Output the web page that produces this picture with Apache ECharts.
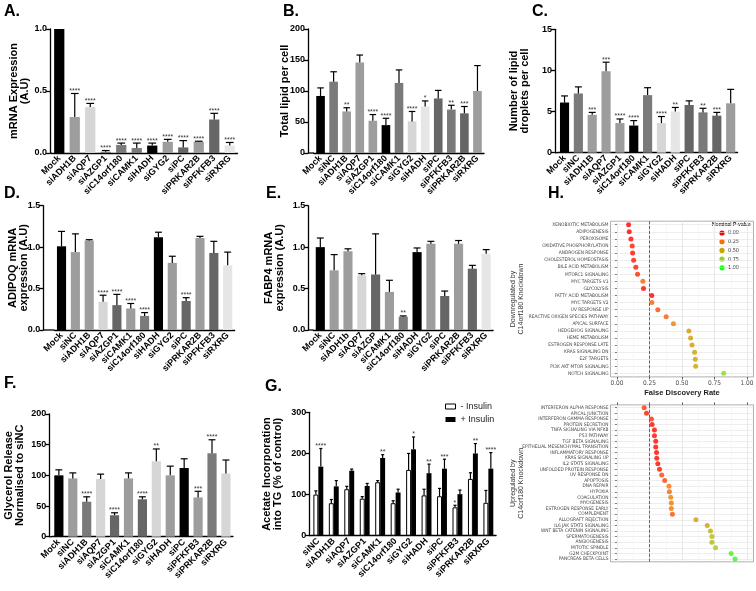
<!DOCTYPE html>
<html><head><meta charset="utf-8">
<script src="https://cdn.jsdelivr.net/npm/echarts@6/dist/echarts.min.js"></script>
<style>html,body{margin:0;padding:0;background:#fff}#c{width:756px;height:591px}</style>
</head><body><div id="c"></div>
<script>
// ---------------- DATA ----------------
const catsA = ['Mock','siADH1B','siAQP7','siAZGP1','siC14orf180','siCAMK1','siHADH','siGYG2','siPC','siPRKAR2B','siPFKFB3','siRXRG'];
const valsA = [1.0,0.29,0.37,0.01,0.065,0.04,0.06,0.09,0.045,0.09,0.27,0.06];
const errA  = [1.0,0.48,0.40,0.02,0.08,0.08,0.08,0.11,0.10,0.095,0.32,0.085];
const starsA = ['','****','****','****','****','****','****','****','****','****','****','****'];

const catsB = ['Mock','siNC','siADH1B','siAQP7','siAZGP1','siC14orf180','siCAMK1','siGYG2','siHADH','siPC','siPFKFB3','siPRKAR2B','siRXRG'];
const valsB = [92,115,67,146,52,45,113,51,75,88,70,64,100];
const errB  = [105,131,73,158,62,56,134,67,84,101,77,75,141];
const starsB = ['','','**','','****','****','','****','*','','**','***',''];

const catsC = ['Mock','siNC','siADH1B','siAQP7','siAZGP1','siC14orf180','siCAMK1','siGYG2','siHADH','siPC','siPFKFB3','siPRKAR2B','siRXRG'];
const valsC = [6.1,7.2,4.6,9.9,3.6,3.3,7.0,3.6,5.0,5.8,4.9,4.5,6.0];
const errC  = [6.9,8.0,4.9,11.0,4.1,3.9,7.9,4.4,5.5,6.3,5.4,4.9,7.7];
const starsC = ['','','***','***','****','****','','****','**','','**','***',''];

const catsD = ['Mock','siNC','siADH1B','siAQP7','siAZGP1','siCAMK1','siC14orf180','siHADH','siGYG2','siPC','siPRKAR2B','siPFKFB3','siRXRG'];
const valsD = [1.01,0.94,1.08,0.34,0.30,0.26,0.17,1.12,0.81,0.35,1.11,0.93,0.78];
const errD  = [1.19,1.16,1.09,0.42,0.43,0.32,0.21,1.18,0.89,0.39,1.13,1.07,0.94];
const starsD = ['','','','****','****','****','****','','','****','','',''];

const catsE = ['Mock','siNC','siADH1b','siAQP7','siAZGP','siCAMK1','siC14orf180','siHADH','siGYG2','siPC','siPRKAR2B','siPFKFB3','siRXRG'];
const valsE = [1.0,0.72,0.95,0.66,0.67,0.46,0.16,0.94,1.04,0.41,1.04,0.74,0.92];
const errE  = [1.11,0.91,0.98,0.68,1.16,0.60,0.17,0.99,1.07,0.47,1.08,0.78,0.97];
const starsE = ['','','','','','','**','','','','','',''];

const catsF = ['Mock','siNC','siADH1B','siAQP7','siAZGP1','siCAMK1','siC14orf180','siGYG2','siHADH','siPC','siPFKFB3','siPRKAR2B','siRXRG'];
const valsF = [100,95,57,94,35,95,61,123,100,112,64,136,103];
const errF  = [109,104,65,102,39,104,65,143,115,127,74,158,125];
const starsF = ['','','****','','****','','****','**','','','***','****',''];

const catsG = ['siNC','siADH1B','siAQP7','siAZGP1','siCAMK1','siC14orf180','siGYG2','siHADH','siPC','siPFKFB3','siPRKAR2B','siRXRG'];
const seriesGNames = ['- Insulin','+ Insulin'];
const valsGminus = [100,79,113,90,130,79,160,98,96,69,138,80];
const errGminus  = [109,88,120,95,134,85,200,113,115,74,153,110];
const starsGminus = ['','','','','','','','','','*','',''];
const valsGplus = [168,120,158,121,189,105,210,152,163,101,200,163];
const errGplus  = [212,134,162,127,197,113,240,174,186,111,224,202];
const starsGplus = ['****','','','','**','','*','**','***','','**','****'];

const hDownNames = ['XENOBIOTIC METABOLISM','ADIPOGENESIS','PEROXISOME','OXIDATIVE PHOSPHORYLATION','ANDROGEN RESPONSE','CHOLESTEROL HOMEOSTASIS','BILE ACID METABOLISM','MTORC1 SIGNALING','MYC TARGETS V1','GLYCOLYSIS','FATTY ACID METABOLISM','MYC TARGETS V2','UV RESPONSE UP','REACTIVE OXIGEN SPECIES PATHWAY','APICAL SURFACE','HEDGEHOG SIGNALING','HEME METABOLISM','ESTROGEN RESPONSE LATE','KRAS SIGNALING DN','E2F TARGETS','PI3K AKT MTOR SIGNALING','NOTCH SIGNALING'];
const hDownFdr = [0.089,0.094,0.107,0.117,0.120,0.128,0.145,0.158,0.199,0.204,0.268,0.268,0.314,0.378,0.434,0.553,0.566,0.577,0.597,0.602,0.605,0.821];
const hDownP   = [0.0,0.0,0.02,0.06,0.03,0.05,0.05,0.08,0.22,0.02,0.0,0.2,0.16,0.2,0.3,0.45,0.45,0.47,0.48,0.5,0.5,0.78];

const hUpNames = ['INTERFERON ALPHA RESPONSE','APICAL JUNCTION','INTERFERON GAMMA RESPONSE','PROTEIN SECRETION','TNFA SIGNALING VIA NFKB','P53 PATHWAY','TGF BETA SIGNALING','EPITHELIAL MESENCHYMAL TRANSITION','INFLAMMATORY RESPONSE','KRAS SIGNALING UP','IL2 STAT5 SIGNALING','UNFOLDED PROTEIN RESPONSE','UV RESPONSE DN','APOPTOSIS','DNA REPAIR','HYPOXIA','COAGULATION','MYOGENESIS','ESTROGEN RESPONSE EARLY','COMPLEMENT','ALLOGRAFT REJECTION','IL6 JAK STAT3 SIGNALING','WNT BETA CATENIN SIGNALING','SPERMATOGENESIS','ANGIOGENESIS','MITOTIC SPINDLE','G2M CHECKPOINT','PANCREAS BETA CELLS'];
const hUpFdr = [0.209,0.227,0.265,0.270,0.288,0.288,0.298,0.298,0.304,0.306,0.314,0.327,0.344,0.367,0.400,0.403,0.413,0.418,0.418,0.426,0.607,0.694,0.719,0.730,0.730,0.758,0.878,0.908];
const hUpP   = [0.12,0.05,0.1,0.02,0.02,0.03,0.02,0.02,0.02,0.02,0.02,0.05,0.15,0.15,0.25,0.22,0.32,0.25,0.25,0.18,0.48,0.5,0.55,0.65,0.6,0.7,0.9,0.95];

const pLegendVals = [0, 0.25, 0.5, 0.75, 1];

// ---------------- STYLES ----------------
const K='#000000', D='#666666', M='#7a7a7a', G='#9d9d9d', L='#d6d6d6', W='#e6e6e6';
const colorsA = [K,G,L,M,M,M,K,G,D,G,D,W];
const colorsB = [K,M,G,G,G,K,M,L,W,D,M,D,G];
const colorsC = [K,M,G,G,G,K,M,L,W,D,M,D,G];
const colorsD = [K,G,G,L,D,G,M,K,G,D,G,D,W];
const colorsE = [K,G,G,L,D,G,M,K,G,D,G,D,W];
const colorsF = [K,G,M,L,D,G,D,L,G,K,G,M,L];
const PCOL = ['#ff0000','#f57300','#c9a400','#95d61b','#1aff1a'];
const FF = '"Liberation Sans", Arial, Helvetica, sans-serif';
const NARROW = '"Liberation Sans Narrow", "DejaVu Sans Condensed", "Liberation Sans", sans-serif';

const option = {animation:false, backgroundColor:'#fff', grid:[], xAxis:[], yAxis:[], series:[], graphic:[]};

function errRenderer(stars, shift, capFrac){
  return function(params, api){
    const j = api.value(0), v = api.value(1), e = api.value(2);
    const band = api.size([1,0])[0];
    const p0 = api.coord([j, v]), p1 = api.coord([j, e]);
    const cx = p0[0] + shift*band;
    const half = band*capFrac/2;
    const ch = [];
    if (e > v) {
      ch.push({type:'line', shape:{x1:cx,y1:p0[1],x2:cx,y2:p1[1]}, style:{stroke:'#000', lineWidth:1.2}});
      ch.push({type:'line', shape:{x1:cx-half,y1:p1[1],x2:cx+half,y2:p1[1]}, style:{stroke:'#000', lineWidth:1.2}});
    }
    const s = stars[params.dataIndex];
    if (s) ch.push({type:'text', style:{text:s, x:cx, y:p1[1]+1, align:'center', verticalAlign:'bottom', fontSize:7, fill:'#333', fontFamily:FF}});
    return {type:'group', children:ch};
  };
}

function addAxes(gi, cats, cfg){
  option.grid.push(Object.assign({outerBoundsMode:'none', containLabel:false}, cfg.g));
  option.xAxis.push({gridIndex:gi, type:'category', data:cats,
    axisLine:{lineStyle:{color:'#000', width:1.3}},
    axisTick:{alignWithLabel:true, length:3, lineStyle:{color:'#000', width:1.3}},
    axisLabel:{rotate:45, interval:0, fontSize:9, fontWeight:'bold', color:'#000', margin:4, fontFamily:FF},
    splitLine:{show:false}});
  option.yAxis.push({gridIndex:gi, type:'value', min:0, max:cfg.max, interval:cfg.interval,
    offset:cfg.g.left - cfg.axisX,
    axisLine:{show:true, lineStyle:{color:'#000', width:1.3}},
    axisTick:{show:true, length:4, lineStyle:{color:'#000', width:1.3}},
    axisLabel:{fontSize:9, fontWeight:'bold', color:'#000', margin:3, fontFamily:FF, formatter:v=>v.toFixed(cfg.dec)},
    splitLine:{show:false},
    name:cfg.title, nameLocation:'middle', nameRotate:90, nameGap:cfg.gap, nameMoveOverlap:false,
    nameTextStyle:{fontSize:11, fontWeight:'bold', lineHeight:11, color:'#000', fontFamily:FF}});
  if (cfg.g.left - cfg.axisX > 1) {
    const y = cfg.g.top + cfg.g.height;
    option.graphic.push({type:'line', shape:{x1:cfg.axisX, y1:y, x2:cfg.g.left, y2:y}, style:{stroke:'#000', lineWidth:1.3}, z:10});
  }
}

const barPanels = [
 {cats:catsA, vals:valsA, err:errA, stars:starsA, colors:colorsA, max:1, interval:0.5, dec:1, title:'mRNA Expression\n(A.U)', g:{left:51.5,top:29,width:186,height:124}, axisX:50, gap:20},
 {cats:catsB, vals:valsB, err:errB, stars:starsB, colors:colorsB, max:200, interval:50, dec:0, title:'Total lipid per cell', g:{left:314,top:29,width:170,height:124}, axisX:308, gap:18},
 {cats:catsC, vals:valsC, err:errC, stars:starsC, colors:colorsC, max:15, interval:5, dec:0, title:'Number of lipid\ndroplets per cell', g:{left:557.6,top:29.3,width:180,height:123.4}, axisX:555, gap:25},
 {cats:catsD, vals:valsD, err:errD, stars:starsD, colors:colorsD, max:1.5, interval:0.5, dec:1, title:'ADIPOQ mRNA\nexpression (A.U)', g:{left:54.6,top:205.7,width:180,height:124.3}, axisX:43.3, gap:14},
 {cats:catsE, vals:valsE, err:errE, stars:starsE, colors:colorsE, max:1.5, interval:0.5, dec:1, title:'FABP4 mRNA\nexpression (A.U)', g:{left:313.4,top:205.7,width:179.7,height:124.3}, axisX:308.3, gap:23},
 {cats:catsF, vals:valsF, err:errF, stars:starsF, colors:colorsF, max:200, interval:50, dec:0, title:'Glycerol Release\nNormalised to siNC', g:{left:51.9,top:414,width:181,height:122.7}, axisX:49.3, gap:24}
];

barPanels.forEach((p, gi) => {
  addAxes(gi, p.cats, p);
  option.series.push({type:'bar', xAxisIndex:gi, yAxisIndex:gi, barWidth:'66%',
    data:p.vals.map((v,j)=>({value:v, itemStyle:{color:p.colors[j]}}))});
  option.series.push({type:'custom', xAxisIndex:gi, yAxisIndex:gi, z:5,
    data:p.vals.map((v,j)=>[j, v, p.err[j]]), renderItem:errRenderer(p.stars, 0, 0.5)});
});

// Panel G
const gG = 6;
addAxes(gG, catsG, {max:300, interval:100, dec:0, title:'Acetate Incorporation\ninto TG (% of control)', g:{left:310.6,top:412.3,width:185.5,height:123.4}, axisX:309.3, gap:26});
option.series.push({type:'bar', name:seriesGNames[0], xAxisIndex:gG, yAxisIndex:gG, barWidth:'32%', barGap:'0%',
  itemStyle:{color:'#fff', borderColor:'#000', borderWidth:1}, data:valsGminus});
option.series.push({type:'bar', name:seriesGNames[1], xAxisIndex:gG, yAxisIndex:gG, barWidth:'32%', barGap:'0%',
  itemStyle:{color:'#000'}, data:valsGplus});
option.series.push({type:'custom', xAxisIndex:gG, yAxisIndex:gG, z:5,
  data:valsGminus.map((v,j)=>[j, v, errGminus[j]]), renderItem:errRenderer(starsGminus, -0.16, 0.2)});
option.series.push({type:'custom', xAxisIndex:gG, yAxisIndex:gG, z:5,
  data:valsGplus.map((v,j)=>[j, v, errGplus[j]]), renderItem:errRenderer(starsGplus, 0.16, 0.2)});
option.legend = {data:seriesGNames, icon:'rect', left:440, top:396, orient:'vertical', itemWidth:10, itemHeight:5, itemGap:2,
  textStyle:{fontSize:9, lineHeight:11, color:'#222', fontFamily:FF}, itemStyle:{borderWidth:1}};

// Panel H
const xt = [0, 0.25, 0.5, 0.75, 1];
const xm = [0.125, 0.375, 0.625, 0.875];
function addH(gi, grid, names, fdr, pv, pos, showLabels, title, axisName){
  option.grid.push(Object.assign({outerBoundsMode:'none', containLabel:false, show:true, backgroundColor:'#fff', borderColor:'#9a9a9a', borderWidth:0.8}, grid));
  const xi = option.xAxis.length;
  option.xAxis.push({gridIndex:gi, type:'value', min:-0.05, max:1.05, position:pos,
    axisLine:{show:false},
    axisTick:{show:true, customValues:xt, length:2.5, lineStyle:{color:'#333', width:0.8}},
    axisLabel:{show:showLabels, customValues:xt, formatter:v=>v.toFixed(2), fontSize:6.5, color:'#4d4d4d', margin:3, fontFamily:NARROW},
    splitLine:{show:true, lineStyle:{color:'#e3e3e3', width:0.8}},
    name:axisName, nameLocation:'middle', nameGap:12, nameMoveOverlap:false,
    nameTextStyle:{fontSize:7.5, fontWeight:'bold', color:'#222', fontFamily:FF}});
  option.xAxis.push({gridIndex:gi, type:'value', min:-0.05, max:1.05, position:(pos==='bottom'?'top':'bottom'),
    axisLine:{show:false}, axisTick:{show:false, customValues:xm}, axisLabel:{show:false, customValues:xm},
    splitLine:{show:true, lineStyle:{color:'#f2f2f2', width:0.6}}});
  const yi = option.yAxis.length;
  option.yAxis.push({gridIndex:gi, type:'category', data:names, inverse:true,
    axisLine:{show:false},
    axisTick:{show:true, alignWithLabel:true, interval:0, length:2, lineStyle:{color:'#333', width:0.6}},
    axisLabel:{interval:0, hideOverlap:false, fontSize:4.8, color:'#444', margin:2, fontFamily:NARROW},
    splitLine:{show:true, interval:0, alignWithLabel:true, lineStyle:{color:'#e3e3e3', width:0.6}},
    name:title, nameLocation:'middle', nameRotate:90, nameGap:86, nameMoveOverlap:false,
    nameTextStyle:{fontSize:7, lineHeight:7.5, color:'#333', fontFamily:FF}});
  const si = option.series.length;
  option.series.push({type:'scatter', xAxisIndex:xi, yAxisIndex:yi, symbolSize:5, z:5,
    data:names.map((n,i)=>[fdr[i], n, pv[i]]),
    markLine:{silent:true, symbol:'none', label:{show:false}, data:[{xAxis:0.25}], lineStyle:{type:'dashed', color:'#444', width:0.8}}});
  return si;
}
const sTop = addH(7, {left:610.5, top:221.2, width:143, height:155.7}, hDownNames, hDownFdr, hDownP, 'bottom', true, 'Downregulated by\nC14orf180 Knockdown', 'False Discovery Rate');
const sBot = addH(8, {left:610.5, top:404.9, width:143, height:156.9}, hUpNames, hUpFdr, hUpP, 'top', false, 'Upregulated by\nC14orf180 Knockdown', '');
option.visualMap = {type:'continuous', show:false, min:0, max:1, dimension:2, seriesIndex:[sTop, sBot], inRange:{color:PCOL}};

// H legend
option.graphic.push({type:'text', left:712, top:222, style:{text:'Nominal P-value', fontSize:5, fontWeight:'bold', fill:'#222', fontFamily:FF}});
pLegendVals.forEach((v,i)=>{
  option.graphic.push({type:'circle', shape:{cx:722, cy:233+8.7*i, r:2.6}, style:{fill:PCOL[i]}});
  option.graphic.push({type:'text', x:728, y:233+8.7*i, style:{text:v.toFixed(2), fontSize:5.5, fill:'#333', verticalAlign:'middle', fontFamily:NARROW}});
});

// Panel letters
[['A.',4,4],['B.',283,4],['C.',532,4],['D.',4,186],['E.',266,186],['F.',4,376],['G.',265,379],['H.',548,186]].forEach(t=>{
  option.graphic.push({type:'text', x:t[1], y:t[2], style:{text:t[0], fontSize:16, fontWeight:'bold', fill:'#000', fontFamily:FF}});
});

const chart = echarts.init(document.getElementById('c'), null, {renderer:'canvas'});
chart.setOption(option);
</script></body></html>
